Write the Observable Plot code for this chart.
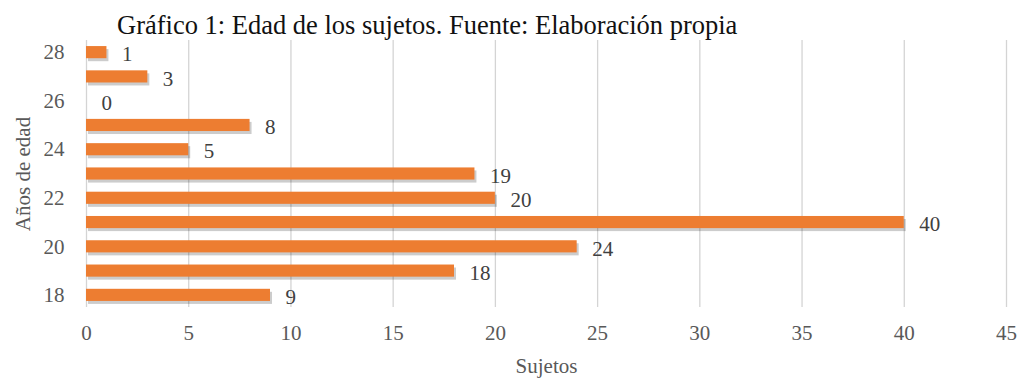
<!DOCTYPE html>
<html>
<head>
<meta charset="utf-8">
<script src="https://cdn.jsdelivr.net/npm/d3@7"></script>
<script src="https://cdn.jsdelivr.net/npm/@observablehq/plot@0.6"></script>
<style>
  body { margin: 0; background: #fff; }
  #title { font-family: "Liberation Serif", "Times New Roman", serif; font-size: 26.5px; color: #111; height: 40px; line-height: 50px; padding-left: 117px; box-sizing: border-box; white-space: nowrap; overflow: visible; }
  #chart svg { display: block; overflow: visible; }
</style>
</head>
<body>
<div id="title">Gráfico 1: Edad de los sujetos. Fuente: Elaboración propia</div>
<div id="chart"></div>
<script>
const ages = ["18","19","20","21","22","23","24","25","26","27","28"];
const counts = [9, 18, 24, 40, 20, 19, 5, 8, 0, 3, 1];
const yTicks = ["18","20","22","24","26","28"];
const xTicks = [0, 5, 10, 15, 20, 25, 30, 35, 40, 45];
const xLabel = "Sujetos";
const yLabel = "Años de edad";

const data = ages.map((a, i) => ({age: a, count: counts[i]}));

const chart = Plot.plot({
  width: 1019,
  height: 340,
  marginTop: 0,
  marginBottom: 73,
  marginLeft: 86,
  marginRight: 13,
  style: { fontFamily: "'Liberation Serif', 'Times New Roman', serif", background: "#fff" },
  x: { domain: [0, 45] },
  y: { domain: ages.slice().reverse(), paddingInner: 0.5, paddingOuter: 0.25, round: false },
  marks: [
    Plot.gridX(xTicks, { stroke: "#d4d4d4", strokeOpacity: 1, strokeWidth: 1.3 }),
    Plot.axisX({ ticks: xTicks, tickSize: 0, tickPadding: 18, fontSize: 21, color: "#595959", label: xLabel, labelAnchor: "center", labelOffset: 65, labelArrow: "none" }),
    Plot.axisY({ ticks: yTicks, tickSize: 0, tickPadding: 22, fontSize: 21, color: "#595959", label: yLabel, labelAnchor: "center", labelOffset: 71, labelArrow: "none" }),
    Plot.barX(data, { x: "count", y: "age", fill: "#000", fillOpacity: 0.2, dx: 2, dy: 3 }),
    Plot.barX(data, { x: "count", y: "age", fill: "#ED7D31" }),
    Plot.text(data, { x: "count", y: "age", text: d => String(d.count), textAnchor: "start", dx: 15, dy: 2, fontSize: 21, fill: "#404040" })
  ]
});
document.getElementById("chart").appendChild(chart);
</script>
</body>
</html>
